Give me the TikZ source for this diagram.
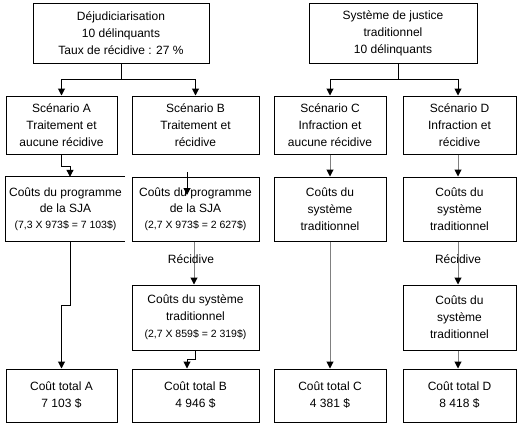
\documentclass[tikz,border=0pt]{standalone}
\usepackage{fontspec}
\setmainfont{Liberation Sans}
\usetikzlibrary{arrows.meta,calc}
\newcommand\smalltxt{\fontsize{10.5}{16}\selectfont}
\begin{document}
\begin{tikzpicture}[x=1pt,y=-1pt,
  box/.style={draw,line width=1pt,inner sep=0pt,align=center,font=\fontsize{12}{17}\selectfont},
  openbox/.style={inner sep=0pt,align=center,font=\fontsize{12}{17}\selectfont},
  lbl/.style={inner sep=0pt,font=\fontsize{12}{17}\selectfont},
  arr/.style={line width=1pt,-{Triangle[length=7pt,width=7pt]}},
  garr/.style={line width=1pt,draw=gray,-{Triangle[length=7pt,width=7pt,color=black]}},
  wA/.style={minimum width=111pt},
  wB/.style={minimum width=127pt},
  wC/.style={minimum width=112pt},
  wD/.style={minimum width=113pt}]
\useasboundingbox (0,0) rectangle (518,426);
% top boxes
\node[box,minimum width=176pt,minimum height=60pt] (T1) at (121,33)
  {Déjudiciarisation\\10 délinquants\\Taux de récidive : 27 \%};
\node[box,minimum width=168pt,minimum height=60pt] (T2) at (393,33)
  {Système de justice\\traditionnel\\10 délinquants};
% scenarios
\node[box,wA,minimum height=58pt] (A2) at (61.5,125) {Scénario A\\Traitement et\\aucune récidive};
\node[box,wB,minimum height=58pt] (B2) at (195.5,125) {Scénario B\\Traitement et\\récidive};
\node[box,wC,minimum height=58pt] (C2) at (330,125) {Scénario C\\Infraction et\\aucune récidive};
\node[box,wD,minimum height=58pt] (D2) at (459.5,125) {Scénario D\\Infraction et\\récidive};
% row 3
\node[openbox,minimum width=119pt,minimum height=64pt] (A3) at (65.5,209)
  {Coûts du programme\\[-1.5pt]de la SJA\\[-1pt]{\smalltxt (7,3 X 973\$ = 7 103\$)}};
\draw[line width=1pt] (A3.north east) -- (A3.north west) -- (A3.south west) -- (A3.south east);
\node[box,wB,minimum height=64pt] (B3) at (195.5,209)
  {Coûts du programme\\[-1.5pt]de la SJA\\[-1pt]{\smalltxt (2,7 X 973\$ = 2 627\$)}};
\node[box,wC,minimum height=64pt] (C3) at (330,209) {Coûts du\\système\\traditionnel};
\node[box,wD,minimum height=64pt] (D3) at (459.5,209) {Coûts du\\système\\traditionnel};
% row 4
\node[box,wB,minimum height=65pt] (B4) at (195.5,317.5)
  {Coûts du système\\traditionnel\\{\smalltxt (2,7 X 859\$ = 2 319\$)}};
\node[box,wD,minimum height=65pt] (D4) at (459.5,317.5) {Coûts du\\système\\traditionnel};
% totals
\node[box,wA,minimum height=53pt] (A5) at (61.5,395.5) {Coût total A\\7 103 \$};
\node[box,wB,minimum height=53pt] (B5) at (195.5,395.5) {Coût total B\\4 946 \$};
\node[box,wC,minimum height=53pt] (C5) at (330,395.5) {Coût total C\\4 381 \$};
\node[box,wD,minimum height=53pt] (D5) at (459.5,395.5) {Coût total D\\8 418 \$};
% connectors left
\draw[arr] (T1.south) -- ++(0,16) -| (A2.north);
\draw[arr] (T1.south) -- ++(0,16) -| (B2.north);
\draw[arr] (A2.south) -- ++(0,12) -| ($(A3.north)+(4.5,0)$);
\coordinate (b0) at (187,172);
\coordinate (b1) at (187,195);
\draw[arr] (b0) -- (b1);
\draw[garr] ($(B3.south)+(-1.5,0)$) -- ($(B4.north)+(-1.5,0)$);
\node[lbl] (R1) at (191,259) {Récidive};
\draw[arr] ($(A3.south)+(4.5,0)$) -- ++(0,64) -| (A5.north);
\draw[arr] (B4.south) -- ++(0,9) -| ($(B5.north)+(-8.5,0)$);
% connectors right
\draw[arr] ($(T2.south)+(5,0)$) -- ++(0,16) -| (C2.north);
\draw[arr] ($(T2.south)+(5,0)$) -- ++(0,16) -| ($(D2.north)+(-1.5,0)$);
\draw[garr] (C2.south) -- (C3.north);
\draw[garr] (C3.south) -- (C5.north);
\draw[garr] ($(D2.south)+(-1.5,0)$) -- ($(D3.north)+(-1.5,0)$);
\draw[garr] ($(D3.south)+(-1.5,0)$) -- ($(D4.north)+(-1.5,0)$);
\node[lbl] (R2) at (458,259) {Récidive};
\draw[garr] ($(D4.south)+(-1.5,0)$) -- ($(D5.north)+(-1.5,0)$);
\end{tikzpicture}
\end{document}
